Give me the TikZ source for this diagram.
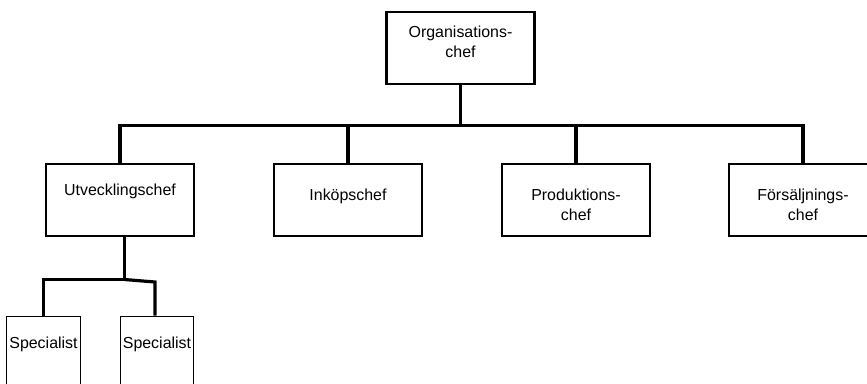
\documentclass[tikz,border=0pt]{standalone}
\usepackage{fontspec}
\setmainfont{Liberation Sans}
\begin{document}
\begin{tikzpicture}[x=1bp,y=-1bp,
  chefbox/.style={draw, line width=2.2bp, minimum width=148bp, minimum height=72bp,
    inner sep=0pt, align=center, font=\fontsize{16}{20}\selectfont, text height=12bp},
  specbox/.style={draw, line width=1bp, minimum width=73bp, minimum height=80bp,
    inner sep=0pt, font=\fontsize{16}{20}\selectfont, text height=12bp, text depth=26.5bp},
  link/.style={line width=3.2bp, line join=miter}]
  \clip (0,0) rectangle (867,383);

  % management level
  \node[chefbox, text height=32bp, text depth=12.5bp] (org) at (460.5,48) {Organisations-\\chef};
  \node[chefbox, text depth=20.5bp] (utv) at (120,200) {Utvecklingschef};
  \node[chefbox, text depth=10.5bp] (ink) at (348,200) {Inköpschef};
  \node[chefbox, text height=52bp, text depth=10.5bp] (prod) at (576,200) {Produktions-\\chef};
  \node[chefbox, text height=52bp, text depth=10.5bp] (fors) at (803,200) {Försäljnings-\\chef};

  % specialists under development
  \node[specbox] (spec1) at (43.5,356) {Specialist};
  \node[specbox] (spec2) at (157,356) {Specialist};

  % connectors
  \coordinate (bar) at (460.5,125.5);
  \foreach \c in {utv,ink,prod,fors}
    \draw[link] (org.south) -- (bar) -| (\c.north);

  \coordinate (ujoin) at (124.5,279.5);
  \coordinate (rbend) at (155,282);
  \draw[link] (utv.south -| ujoin) -- (ujoin) -| (spec1.north);
  \draw[link] (ujoin) -- (rbend) -- (rbend |- spec2.north);
\end{tikzpicture}
\end{document}
